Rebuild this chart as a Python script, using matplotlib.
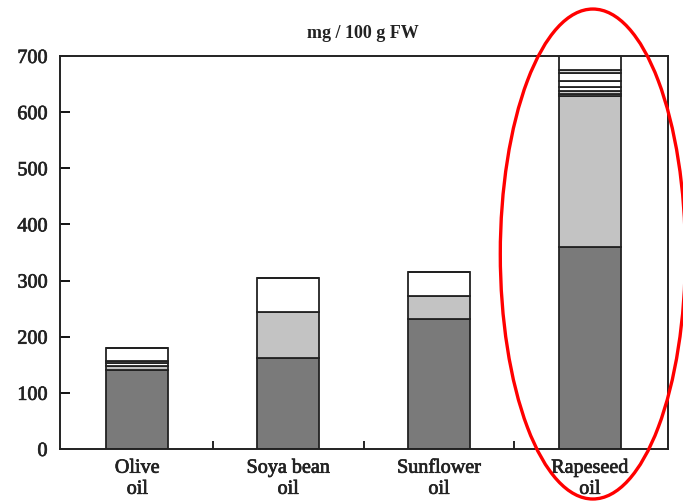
import matplotlib
matplotlib.use('Agg')
import matplotlib.pyplot as plt
import matplotlib.patheffects as pe
from matplotlib.patches import Ellipse
import numpy as np

plt.rcParams['font.family'] = ['Liberation Serif', 'DejaVu Serif']

oils = ['Olive\noil', 'Soya bean\noil', 'Sunflower\noil', 'Rapeseed\noil']

# stacked components, bottom to top (mg / 100 g FW)
comp_dark  = [140, 162, 231, 360]
comp_grey  = [8, 82, 42, 268]
comp_3     = [5, 60, 42, 5]
comp_4     = [3, 0, 0, 5]
comp_5     = [24, 0, 0, 6]
comp_6     = [0, 0, 0, 12]
comp_7     = [0, 0, 0, 13]
comp_8     = [0, 0, 0, 6]
comp_9     = [0, 0, 0, 25]

layers = [comp_dark, comp_grey, comp_3, comp_4, comp_5,
          comp_6, comp_7, comp_8, comp_9]
colours = ['#7a7a7a', '#c3c3c3', 'white', '#d0d0d0', 'white',
           'white', 'white', '#d8d8d8', 'white']

fig = plt.figure(figsize=(6.83, 5.02), dpi=100)
ax = fig.add_axes([0.0878, 0.1036, 0.890, 0.7829])

x = np.arange(len(oils))
bottom = np.zeros(len(oils))
for vals, col in zip(layers, colours):
    vals = np.array(vals, dtype=float)
    ax.bar(x, vals, width=0.41, bottom=bottom, color=col,
           edgecolor='#222222', linewidth=1.3)
    bottom += vals

ax.set_xlim(-0.513, 3.517)
ax.set_ylim(0, 700)
ax.set_yticks(range(0, 701, 100))
ax.set_xticks(x)
ax.set_xticklabels(oils, fontsize=14.5, linespacing=1.15)
ax.set_xticks([0.5, 1.5, 2.5], minor=True)
ax.tick_params(axis='x', which='major', length=0, pad=7)
ax.tick_params(axis='x', which='minor', direction='in', length=6, width=1.2)
ax.tick_params(axis='y', direction='in', length=7, width=1.3,
               labelsize=14.5, pad=9)
for sp in ax.spines.values():
    sp.set_linewidth(1.4)
    sp.set_color('#222222')

# slightly heavier text strokes
thick = [pe.withStroke(linewidth=0.5, foreground='#222222')]
for lab in ax.get_xticklabels() + ax.get_yticklabels():
    lab.set_color('#222222')
    lab.set_path_effects(thick)

fig.text(0.532, 0.934, 'mg / 100 g FW', ha='center', va='center',
         fontsize=13, fontweight='bold', color='#222222')

# highlight around the rapeseed bar
fig.add_artist(Ellipse((0.868, 0.492), 0.271, 0.976,
                       transform=fig.transFigure, fill=False,
                       edgecolor='red', linewidth=2.4))

fig.savefig('out.png', dpi=100)
